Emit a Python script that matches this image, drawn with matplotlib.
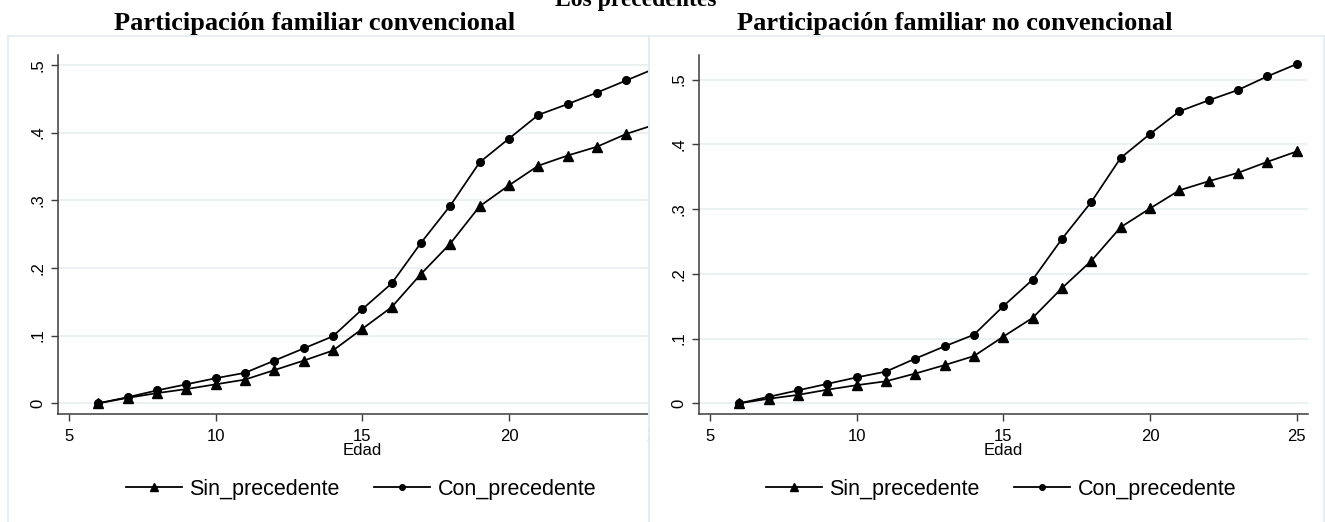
import matplotlib
matplotlib.use("Agg")
import matplotlib.pyplot as plt
from matplotlib.lines import Line2D
from matplotlib.patches import Rectangle

# Data: share by age, with and without precedent
edad = [6, 7, 8, 9, 10, 11, 12, 13, 14, 15, 16, 17, 18, 19, 20, 21, 22, 23, 24, 25]

conv_sin = [0.000, 0.008, 0.015, 0.021, 0.028, 0.035, 0.049, 0.063, 0.078, 0.110,
            0.142, 0.191, 0.236, 0.291, 0.322, 0.351, 0.366, 0.379, 0.398, 0.412]
conv_con = [0.000, 0.009, 0.019, 0.028, 0.037, 0.045, 0.063, 0.081, 0.099, 0.139,
            0.177, 0.237, 0.292, 0.356, 0.391, 0.426, 0.442, 0.459, 0.477, 0.495]

noconv_sin = [0.000, 0.007, 0.013, 0.021, 0.028, 0.034, 0.046, 0.059, 0.073, 0.103,
              0.132, 0.178, 0.220, 0.272, 0.301, 0.329, 0.343, 0.356, 0.373, 0.389]
noconv_con = [0.000, 0.010, 0.020, 0.030, 0.040, 0.049, 0.069, 0.088, 0.106, 0.150,
              0.191, 0.254, 0.311, 0.379, 0.416, 0.451, 0.468, 0.484, 0.505, 0.524]

x_ticks = [5, 10, 15, 20, 25]
y_ticks = [0, 0.1, 0.2, 0.3, 0.4, 0.5]
y_tick_labels = ["0", ".1", ".2", ".3", ".4", ".5"]
series_labels = ["Sin_precedente", "Con_precedente"]
titles = ["Participación familiar convencional", "Participación familiar no convencional"]

W, H = 1325, 522
fig = plt.figure(figsize=(W / 100, H / 100), dpi=100)
fig.patch.set_facecolor("white")

SANS = ["Liberation Sans", "DejaVu Sans"]
SERIF = ["Liberation Serif", "DejaVu Serif"]
GRID = "#e9f0f2"
AXCOL = "#3c3c3c"
BORDER = "#e4ecf0"


def px_rect(x0, y_top, w, h):
    return [x0 / W, (H - y_top - h) / H, w / W, h / H]


def draw_panel(rect, sin, con, ylim):
    ax = fig.add_axes(rect)
    ax.set_xlim(4.63, 25.385)
    ax.set_ylim(*ylim)
    for y in y_ticks:
        ax.axhline(y, color=GRID, lw=1.3, zorder=0)
    ax.plot(edad, sin, color="black", lw=1.25, marker="^", markersize=7.5, zorder=3)
    ax.plot(edad, con, color="black", lw=1.25, marker="o", markersize=5.5, zorder=3)
    for s in ("top", "right"):
        ax.spines[s].set_visible(False)
    for s in ("left", "bottom"):
        ax.spines[s].set_color(AXCOL)
        ax.spines[s].set_linewidth(1.1)
    ax.set_xticks(x_ticks)
    ax.set_xticklabels([str(t) for t in x_ticks], fontsize=12, family=SANS)
    ax.set_yticks(y_ticks)
    ax.set_yticklabels(y_tick_labels, fontsize=12, family=SANS,
                       rotation=90, va="center")
    ax.tick_params(axis="both", direction="out", length=5, width=1, color=AXCOL,
                   pad=4)
    ax.tick_params(axis="x", pad=6)
    ax.set_xlabel("Edad", fontsize=12, family=SANS, labelpad=-1)
    return ax


ax_l = draw_panel(px_rect(58, 55, 609, 359), conv_sin, conv_con, (-0.0158, 0.5145))
ax_r = draw_panel(px_rect(699, 55, 609, 359), noconv_sin, noconv_con, (-0.0165, 0.538))

# Left graph is cut at its right edge
fig.patches.append(Rectangle((649.5 / W, 0), 20 / W, (H - 37) / H,
                             transform=fig.transFigure, facecolor="white",
                             edgecolor="none", zorder=5))

# Light frames around each graph
for x0, x1 in [(8, 649), (649, 1324)]:
    fig.add_artist(Line2D([x0 / W, x1 / W], [(H - 36) / H] * 2, color=BORDER,
                          lw=1.2, transform=fig.transFigure, zorder=6))
    for xx in (x0, x1):
        fig.add_artist(Line2D([xx / W] * 2, [0, (H - 36) / H], color=BORDER,
                              lw=1.2, transform=fig.transFigure, zorder=6))

# Titles
fig.text(315 / W, 1 - 30 / H, titles[0], ha="center", va="baseline",
         fontsize=19, fontweight="bold", family=SERIF)
fig.text(955 / W, 1 - 30 / H, titles[1], ha="center", va="baseline",
         fontsize=19, fontweight="bold", family=SERIF)
fig.text(636 / W, 1 - 6 / H, "Los precedentes", ha="center", va="baseline",
         fontsize=17, fontweight="bold", family=SERIF)

# Legends below each graph
handles = [Line2D([], [], color="black", lw=1.3, marker="^", markersize=5.5),
           Line2D([], [], color="black", lw=1.3, marker="o", markersize=4)]
for cx in (361, 1001):
    fig.legend(handles, series_labels, loc="center",
               bbox_to_anchor=(cx / W, (H - 489) / H), ncol=2, frameon=False,
               prop={"family": SANS, "size": 15.5}, handlelength=2.6,
               handletextpad=0.35, columnspacing=1.6)

fig.savefig("out.png", dpi=100)
